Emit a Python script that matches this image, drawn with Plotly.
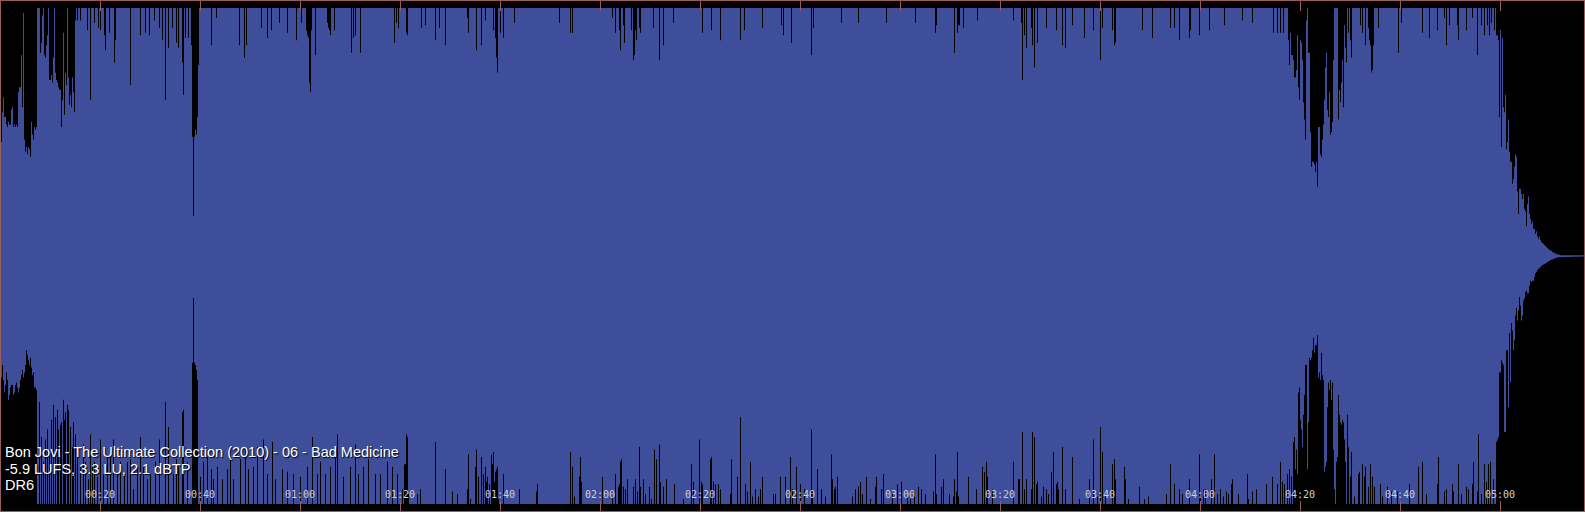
import plotly.graph_objects as go

# ---------------- data ----------------
BIN = 0.2                      # seconds per waveform column
body_start = 7.4               # s, start of the full-scale (clipped) body
fade_start = 299.2             # s, start of the fade-out

# intro columns (0 .. 7.4 s): positive / negative peak level
intro_top = [0.49, 0.46, 0.58, 0.64, 0.56, 0.56, 0.53, 0.52, 0.54, 0.53,
             0.53, 0.59, 0.60, 0.52, 0.53, 0.52, 0.53, 0.52, 0.66, 0.68,
             0.68, 0.81, 0.60, 0.98, 0.47, 0.42, 0.44, 0.41, 0.44, 0.43,
             0.40, 0.54, 0.49, 0.47, 0.52, 0.51, 0.52]
intro_bot = [0.48, 0.49, 0.44, 0.50, 0.55, 0.52, 0.47, 0.50, 0.58, 0.56,
             0.53, 0.52, 0.52, 0.56, 0.55, 0.52, 0.51, 0.53, 0.55, 0.53,
             0.50, 0.48, 0.46, 0.49, 0.47, 0.44, 0.38, 0.40, 0.42, 0.44,
             0.41, 0.45, 0.48, 0.47, 0.53, 0.53, 0.54]

# fade-out columns (from 299.2 s to the end)
fade_top = [0.89, 0.89, 0.87, 0.56, 0.91, 0.44, 0.88, 0.60, 0.58, 0.65,
            0.43, 0.46, 0.55, 0.42, 0.38, 0.38, 0.29, 0.31, 0.36, 0.41,
            0.40, 0.26, 0.17, 0.27, 0.27, 0.25, 0.23, 0.25, 0.19, 0.18,
            0.12, 0.21, 0.24, 0.17, 0.15, 0.13, 0.14, 0.11, 0.11, 0.09,
            0.10, 0.08, 0.07, 0.08, 0.065, 0.056, 0.052, 0.048, 0.044, 0.04,
            0.036, 0.032, 0.028, 0.024, 0.022, 0.02, 0.016, 0.014, 0.012, 0.01,
            0.008, 0.008, 0.006, 0.005,
            0.003, 0.003, 0.003, 0.003, 0.003, 0.003, 0.003, 0.003, 0.003, 0.003,
            0.003, 0.003, 0.003, 0.003, 0.003, 0.003, 0.003, 0.003, 0.003, 0.003,
            0.003, 0.003, 0.003, 0.003]
fade_bot = [0.75, 0.74, 0.73, 0.47, 0.47, 0.42, 0.43, 0.44, 0.71, 0.71,
            0.38, 0.38, 0.61, 0.31, 0.51, 0.27, 0.30, 0.38, 0.34, 0.24,
            0.21, 0.26, 0.22, 0.165, 0.20, 0.26, 0.24, 0.18, 0.17, 0.145,
            0.14, 0.15, 0.15, 0.12, 0.10, 0.105, 0.10, 0.10, 0.085, 0.07,
            0.065, 0.056, 0.05, 0.05, 0.044, 0.04, 0.036, 0.035, 0.032, 0.03,
            0.028, 0.024, 0.022, 0.02, 0.016, 0.016, 0.014, 0.012, 0.01, 0.008,
            0.008, 0.006, 0.005, 0.004,
            0.002, 0.002, 0.002, 0.002, 0.002, 0.002, 0.002, 0.002, 0.002, 0.002,
            0.002, 0.002, 0.002, 0.002, 0.002, 0.002, 0.002, 0.002, 0.002, 0.002,
            0.002, 0.002, 0.002, 0.002]

# columns of the body whose positive peak stays below full scale: (time s, level)
top_dips = [
    (8.0, 0.82), (8.2, 0.86), (8.4, 0.97), (8.8, 0.81), (9.0, 0.80), (9.2, 0.85), (9.4, 0.89),
    (9.8, 0.71), (10.0, 0.71), (10.2, 0.73), (10.4, 0.70), (10.6, 0.80), (11.0, 0.74), (11.2, 0.71),
    (11.4, 0.70), (11.6, 0.68), (11.8, 0.67), (12.0, 0.67), (12.2, 0.52), (12.4, 0.63), (12.6, 0.90),
    (12.8, 0.57), (13.0, 0.74), (13.2, 0.69), (13.6, 0.72), (13.8, 0.61), (14.0, 0.65), (14.2, 0.60),
    (14.4, 0.72), (14.6, 0.66), (14.8, 0.58), (15.0, 0.95), (15.4, 0.95), (16.0, 0.95), (17.4, 0.91),
    (18.0, 0.63), (18.8, 0.94), (19.6, 0.92), (20.0, 0.91), (20.8, 0.89), (21.0, 0.83), (21.8, 0.90),
    (22.8, 0.78), (23.0, 0.87), (26.0, 0.69), (28.0, 0.89), (29.0, 0.90), (29.8, 0.89), (30.8, 0.95),
    (31.8, 0.92), (32.4, 0.87), (33.0, 0.63), (33.6, 0.84), (34.4, 0.92), (35.2, 0.86), (35.6, 0.84),
    (36.4, 0.78), (36.6, 0.65), (37.0, 0.88), (37.6, 0.88), (38.2, 0.85), (38.4, 0.48), (38.6, 0.16),
    (38.8, 0.48), (39.0, 0.51), (39.2, 0.49), (39.4, 0.56), (39.6, 0.77), (42.2, 0.85), (43.2, 0.96),
    (47.8, 0.85), (48.8, 0.80), (49.2, 0.85), (52.2, 0.92), (53.4, 0.88), (54.2, 0.91), (55.8, 0.94),
    (57.4, 0.90), (59.2, 0.87), (60.2, 0.94), (61.2, 0.91), (61.4, 0.89), (61.6, 0.88), (61.8, 0.70),
    (62.0, 0.66), (62.2, 0.91), (63.0, 0.81), (65.4, 0.94), (65.6, 0.92), (65.8, 0.91), (66.0, 0.89),
    (66.8, 0.91), (70.2, 0.82), (70.6, 0.88), (71.0, 0.89), (72.0, 0.82), (78.8, 0.86), (79.2, 0.94),
    (79.6, 0.92), (81.2, 0.90), (81.4, 0.89), (84.2, 0.92), (85.0, 0.93), (87.0, 0.87), (87.8, 0.92),
    (89.0, 0.85), (93.4, 0.96), (93.6, 0.90), (95.2, 0.83), (96.2, 0.85), (97.0, 0.95), (98.6, 0.91),
    (99.0, 0.88), (99.2, 0.80), (99.4, 0.74), (100.0, 0.90), (100.6, 0.88), (102.8, 0.94), (111.8, 0.94),
    (114.0, 0.90), (114.4, 0.90), (122.4, 0.96), (123.0, 0.90), (123.8, 0.91), (124.0, 0.83), (124.6, 0.93),
    (124.8, 0.86), (126.2, 0.91), (126.6, 0.79), (126.8, 0.81), (127.0, 0.91), (127.2, 0.87), (127.8, 0.92),
    (128.0, 0.90), (130.6, 0.92), (131.8, 0.79), (132.6, 0.85), (134.6, 0.94), (140.4, 0.90), (142.2, 0.91),
    (144.0, 0.87), (148.0, 0.87), (148.8, 0.91), (152.4, 0.92), (156.2, 0.93), (156.6, 0.89), (158.2, 0.86),
    (162.2, 0.81), (162.6, 0.92), (168.2, 0.94), (171.6, 0.94), (177.2, 0.94), (183.0, 0.94), (187.0, 0.90),
    (187.2, 0.93), (190.8, 0.82), (191.4, 0.90), (191.6, 0.93), (191.8, 0.93), (192.6, 0.92), (195.4, 0.95),
    (202.6, 0.95), (204.2, 0.94), (204.4, 0.71), (204.8, 0.89), (205.2, 0.84), (206.2, 0.92), (206.4, 0.85),
    (206.8, 0.76), (207.4, 0.86), (209.2, 0.92), (211.2, 0.91), (212.4, 0.85), (213.0, 0.84), (214.4, 0.93),
    (216.8, 0.88), (218.6, 0.91), (220.0, 0.79), (220.4, 0.92), (222.4, 0.91), (222.8, 0.85), (223.0, 0.86),
    (228.4, 0.91), (230.4, 0.88), (234.0, 0.92), (234.8, 0.92), (235.8, 0.87), (237.8, 0.88), (238.0, 0.91),
    (239.8, 0.89), (241.8, 0.91), (244.8, 0.93), (248.4, 0.95), (250.4, 0.94), (254.6, 0.90), (255.4, 0.90),
    (256.0, 0.90), (256.6, 0.90), (257.6, 0.87), (257.8, 0.77), (258.0, 0.90), (258.2, 0.81), (258.4, 0.81),
    (258.6, 0.79), (258.8, 0.72), (259.0, 0.72), (259.2, 0.75), (259.4, 0.89), (259.6, 0.68), (259.8, 0.63),
    (260.0, 0.87), (260.2, 0.86), (260.4, 0.79), (260.6, 0.62), (260.8, 0.55), (261.0, 0.47), (261.2, 0.95),
    (261.6, 0.82), (261.8, 0.82), (262.0, 0.50), (262.2, 0.36), (262.4, 0.38), (262.6, 0.38), (262.8, 0.37),
    (263.0, 0.34), (263.2, 0.38), (263.4, 0.28), (263.6, 0.52), (263.8, 0.52), (264.0, 0.41), (264.2, 0.40),
    (264.4, 0.47), (264.6, 0.53), (264.8, 0.63), (265.0, 0.76), (265.2, 0.82), (265.4, 0.59), (265.6, 0.56),
    (265.8, 0.66), (266.0, 0.49), (266.2, 0.50), (266.4, 0.54), (266.6, 0.79), (267.6, 0.55), (267.8, 0.67),
    (268.0, 0.62), (268.2, 0.70), (268.4, 0.79), (268.6, 0.60), (268.8, 0.93), (269.0, 0.84), (269.2, 0.78),
    (269.6, 0.90), (270.0, 0.87), (270.2, 0.80), (272.0, 0.93), (272.4, 0.90), (273.0, 0.85), (273.6, 0.92),
    (273.8, 0.87), (274.0, 0.85), (274.2, 0.74), (274.4, 0.75), (274.6, 0.85), (275.6, 0.92), (279.6, 0.82),
    (280.2, 0.94), (284.4, 0.90), (285.8, 0.88), (287.4, 0.91), (288.8, 0.96), (289.2, 0.85), (289.8, 0.93),
    (291.4, 0.93), (291.6, 0.87), (293.2, 0.91), (294.4, 0.96), (295.4, 0.81), (296.2, 0.93), (296.8, 0.89),
    (297.4, 0.93), (297.8, 0.89), (298.2, 0.94), (298.8, 0.91),
]

# columns of the body whose negative peak stays below full scale: (time s, level)
bot_dips = [
    (7.8, 0.59), (8.2, 0.73), (8.6, 0.83), (9.0, 0.74), (9.4, 0.70), (9.8, 0.78), (10.2, 0.66),
    (10.6, 0.60), (11.0, 0.65), (11.4, 0.62), (11.6, 0.70), (12.0, 0.68), (12.2, 0.67), (12.6, 0.58),
    (12.8, 0.66), (13.0, 0.63), (13.4, 0.60), (13.6, 0.62), (14.0, 0.69), (14.4, 0.77), (14.6, 0.67),
    (15.0, 0.72), (15.4, 0.78), (16.0, 0.85), (16.6, 0.76), (17.0, 0.83), (17.6, 0.90), (18.0, 0.72),
    (18.4, 0.84), (18.8, 0.83), (19.4, 0.89), (20.0, 0.74), (20.6, 0.88), (21.4, 0.81), (22.0, 0.81),
    (22.6, 0.74), (23.4, 0.88), (24.0, 0.83), (24.8, 0.88), (25.4, 0.83), (26.0, 0.82), (26.6, 0.94),
    (27.4, 0.86), (28.0, 0.73), (28.6, 0.85), (29.4, 0.90), (30.0, 0.88), (31.0, 0.83), (31.8, 0.74),
    (33.0, 0.59), (33.6, 0.69), (34.6, 0.88), (35.2, 0.82), (35.6, 0.85), (36.4, 0.63), (36.6, 0.62),
    (37.4, 0.83), (38.4, 0.43), (38.6, 0.17), (38.8, 0.43), (39.0, 0.44), (39.2, 0.46), (39.4, 0.50),
    (40.0, 0.89), (40.6, 0.83), (41.4, 0.81), (42.2, 0.86), (42.6, 0.90), (43.4, 0.85), (44.4, 0.90),
    (45.4, 0.86), (46.0, 0.81), (46.6, 0.90), (48.0, 0.82), (49.0, 0.77), (49.6, 0.86), (50.6, 0.85),
    (51.4, 0.77), (52.6, 0.74), (53.4, 0.88), (54.4, 0.75), (55.0, 0.90), (56.4, 0.86), (57.4, 0.87),
    (58.6, 0.88), (60.0, 0.89), (61.4, 0.85), (62.4, 0.73), (63.4, 0.88), (64.0, 0.83), (65.0, 0.88),
    (66.0, 0.85), (67.0, 0.81), (67.4, 0.72), (68.6, 0.89), (70.0, 0.85), (71.0, 0.76), (71.6, 0.88),
    (72.6, 0.85), (73.6, 0.82), (75.0, 0.88), (76.0, 0.88), (77.4, 0.83), (78.4, 0.85), (79.4, 0.88),
    (80.4, 0.94), (80.8, 0.84), (81.0, 0.84), (81.2, 0.72), (81.4, 0.73), (81.6, 0.96), (83.4, 0.96),
    (84.0, 0.94), (87.0, 0.75), (89.0, 0.86), (90.4, 0.95), (91.4, 0.96), (93.4, 0.94), (93.6, 0.80),
    (94.0, 0.98), (95.0, 0.85), (95.2, 0.78), (95.6, 0.89), (96.2, 0.81), (96.6, 0.88), (97.0, 0.85),
    (97.2, 0.91), (97.4, 0.89), (97.8, 0.92), (98.2, 0.80), (98.4, 0.84), (98.6, 0.79), (98.8, 0.91),
    (99.0, 0.87), (99.2, 0.86), (99.4, 0.85), (99.6, 0.98), (100.6, 0.88), (103.8, 0.94), (107.2, 0.95),
    (107.4, 0.92), (114.0, 0.79), (114.4, 0.85), (114.8, 0.97), (115.8, 0.89), (116.0, 0.81), (116.2, 0.91),
    (120.4, 0.89), (122.4, 0.97), (123.0, 0.88), (123.6, 0.93), (123.8, 0.92), (124.0, 0.83), (124.2, 0.82),
    (124.6, 0.93), (125.0, 0.94), (125.4, 0.90), (126.6, 0.93), (127.0, 0.90), (127.4, 0.95), (127.8, 0.77),
    (128.0, 0.93), (128.6, 0.90), (129.0, 0.96), (129.8, 0.93), (130.2, 0.98), (130.8, 0.78), (131.2, 0.82),
    (131.8, 0.76), (132.0, 0.91), (132.6, 0.93), (133.2, 0.90), (134.8, 0.92), (136.6, 0.98), (138.2, 0.84),
    (138.6, 0.91), (139.8, 0.74), (140.2, 0.91), (140.4, 0.92), (142.0, 0.82), (142.2, 0.81), (142.6, 0.91),
    (143.0, 0.92), (143.6, 0.92), (144.0, 0.94), (146.0, 0.96), (146.2, 0.82), (147.4, 0.89), (148.0, 0.65),
    (149.0, 0.92), (149.4, 0.95), (150.0, 0.83), (150.4, 0.97), (151.0, 0.94), (151.6, 0.97), (152.0, 0.94),
    (152.4, 0.89), (154.6, 0.96), (155.0, 0.96), (156.0, 0.89), (157.0, 0.89), (158.0, 0.81), (158.4, 0.94),
    (159.2, 0.85), (160.0, 0.92), (160.8, 0.94), (162.2, 0.70), (162.4, 0.95), (163.4, 0.86), (164.2, 0.94),
    (165.0, 0.97), (166.2, 0.80), (166.4, 0.90), (166.8, 0.94), (167.0, 0.93), (167.4, 0.89), (170.4, 0.97),
    (171.0, 0.94), (171.6, 0.93), (172.0, 0.91), (172.4, 0.96), (173.2, 0.89), (174.0, 0.98), (175.0, 0.93),
    (175.2, 0.89), (176.2, 0.94), (176.6, 0.88), (178.4, 0.96), (179.4, 0.92), (180.2, 0.91), (181.4, 0.97),
    (182.0, 0.98), (182.8, 0.95), (183.6, 0.93), (184.2, 0.94), (185.0, 0.96), (186.6, 0.95), (187.0, 0.80),
    (187.2, 0.96), (188.2, 0.93), (188.6, 0.90), (189.8, 0.96), (190.6, 0.97), (190.8, 0.90), (191.2, 0.95),
    (191.4, 0.79), (191.6, 0.97), (193.6, 0.89), (195.2, 0.94), (196.4, 0.85), (196.8, 0.87), (197.2, 0.83),
    (197.4, 0.89), (198.4, 0.94), (202.6, 0.83), (203.6, 0.90), (203.8, 0.90), (204.4, 0.71), (204.8, 0.94),
    (205.2, 0.90), (206.2, 0.94), (206.4, 0.71), (206.8, 0.73), (207.2, 0.92), (207.4, 0.91), (208.2, 0.97),
    (208.6, 0.93), (209.2, 0.94), (209.6, 0.96), (210.2, 0.87), (210.6, 0.79), (211.2, 0.92), (211.4, 0.91),
    (211.6, 0.94), (212.4, 0.77), (213.0, 0.94), (214.4, 0.81), (215.8, 0.98), (217.8, 0.90), (218.6, 0.74),
    (219.4, 0.97), (220.0, 0.69), (220.4, 0.79), (221.0, 0.97), (222.4, 0.84), (222.8, 0.82), (223.0, 0.90),
    (224.8, 0.85), (225.0, 0.90), (225.6, 0.98), (227.8, 0.93), (228.8, 0.98), (229.6, 0.97), (233.2, 0.96),
    (234.0, 0.84), (234.8, 0.92), (235.8, 0.94), (236.4, 0.96), (237.8, 0.90), (239.8, 0.80), (240.0, 0.97),
    (240.6, 0.94), (241.0, 0.94), (242.2, 0.90), (242.8, 0.80), (243.4, 0.96), (244.0, 0.94), (244.6, 0.97),
    (245.2, 0.95), (245.6, 0.96), (246.2, 0.92), (246.4, 0.90), (247.6, 0.96), (249.4, 0.88), (249.6, 0.98),
    (250.4, 0.95), (251.2, 0.94), (253.2, 0.92), (254.4, 0.89), (255.4, 0.92), (256.0, 0.83), (256.4, 0.91),
    (256.8, 0.92), (257.4, 0.88), (257.8, 0.86), (258.2, 0.89), (258.6, 0.75), (258.8, 0.73), (259.0, 0.86),
    (259.2, 0.78), (259.4, 0.88), (259.6, 0.55), (259.8, 0.53), (260.0, 0.66), (260.2, 0.70), (260.4, 0.77),
    (260.6, 0.64), (260.8, 0.56), (261.0, 0.44), (261.2, 0.44), (261.4, 0.86), (261.6, 0.67), (261.8, 0.41),
    (262.0, 0.42), (262.2, 0.41), (262.4, 0.38), (262.6, 0.33), (262.8, 0.39), (263.0, 0.36), (263.2, 0.36),
    (263.4, 0.32), (263.6, 0.49), (263.8, 0.47), (264.0, 0.50), (264.2, 0.39), (264.4, 0.48), (264.6, 0.50),
    (264.8, 0.87), (265.0, 0.85), (265.2, 0.83), (265.4, 0.61), (265.6, 0.51), (265.8, 0.54), (266.0, 0.50),
    (266.2, 0.58), (266.4, 0.51), (266.6, 0.78), (266.8, 0.94), (267.2, 0.83), (267.4, 0.81), (267.6, 0.56),
    (267.8, 0.64), (268.0, 0.67), (268.2, 0.68), (268.4, 0.66), (268.6, 0.67), (268.8, 0.74), (269.0, 0.83),
    (269.4, 0.64), (269.6, 0.77), (270.0, 0.89), (270.2, 0.79), (270.8, 0.97), (271.6, 0.88), (271.8, 0.87),
    (272.4, 0.84), (272.8, 0.89), (273.0, 0.85), (273.6, 0.93), (274.0, 0.84), (274.4, 0.89), (274.8, 0.93),
    (276.0, 0.92), (276.4, 0.97), (277.4, 0.93), (278.2, 0.95), (279.4, 0.95), (281.8, 0.92), (283.6, 0.85),
    (284.4, 0.83), (285.2, 0.96), (287.4, 0.92), (287.6, 0.81), (288.8, 0.95), (289.2, 0.94), (290.4, 0.92),
    (290.6, 0.95), (291.6, 0.84), (292.2, 0.96), (293.2, 0.93), (293.6, 0.94), (294.4, 0.92), (294.6, 0.83),
    (295.4, 0.95), (295.6, 0.72), (296.2, 0.96), (296.8, 0.84), (297.2, 0.91), (297.6, 0.84), (298.0, 0.83),
    (298.6, 0.90),
]

tick_vals = [20, 40, 60, 80, 100, 120, 140, 160, 180, 200, 220, 240, 260, 280, 300]
tick_text = ["00:20", "00:40", "01:00", "01:20", "01:40", "02:00", "02:20", "02:40",
             "03:00", "03:20", "03:40", "04:00", "04:20", "04:40", "05:00"]

info_lines = ["Bon Jovi - The Ultimate Collection (2010) - 06 - Bad Medicine",
              "-5.9 LUFS, 3.3 LU, 2.1 dBTP",
              "DR6"]

# ---------------- build per-column peaks ----------------
fade_i0 = round(fade_start / BIN)
n_bins = fade_i0 + len(fade_top)
top = [1.0] * n_bins
bot = [1.0] * n_bins
for i, v in enumerate(intro_top):
    top[i] = v
for i, v in enumerate(intro_bot):
    bot[i] = v
for i, v in enumerate(fade_top):
    top[fade_i0 + i] = v
for i, v in enumerate(fade_bot):
    bot[fade_i0 + i] = v
for t, v in top_dips:
    top[round(t / BIN)] = v
for t, v in bot_dips:
    bot[round(t / BIN)] = v

xs, ys = [], []
for i in range(n_bins):
    xs += [i * BIN, (i + 1) * BIN]
    ys += [top[i], top[i]]
for i in reversed(range(n_bins)):
    xs += [(i + 1) * BIN, i * BIN]
    ys += [-bot[i], -bot[i]]

WAVE = "#3f4e9b"
FRAME = "#985c5c"

fig = go.Figure()
fig.add_trace(go.Scatter(x=xs, y=ys, mode="lines", fill="toself",
                         fillcolor=WAVE, line=dict(width=0, color=WAVE),
                         hoverinfo="skip", showlegend=False))

W, H = 1585, 512
fig.update_layout(
    width=W, height=H,
    margin=dict(l=1, r=1, t=1, b=1, pad=0),
    paper_bgcolor="black", plot_bgcolor="black",
    showlegend=False,
    xaxis=dict(range=[0.2, 316.8], showgrid=False, zeroline=False,
               showline=True, linecolor=FRAME, linewidth=1, mirror="ticks",
               ticks="inside", ticklen=10, tickwidth=1, tickcolor=FRAME,
               tickvals=tick_vals, showticklabels=False, fixedrange=True),
    yaxis=dict(range=[-1.0282, 1.0282], showgrid=False, zeroline=False,
               showline=True, linecolor=FRAME, linewidth=1, mirror=True,
               ticks="", showticklabels=False, fixedrange=True),
)

for tv, tt in zip(tick_vals, tick_text):
    fig.add_annotation(x=tv, y=0.0333, xref="x", yref="paper", text=tt,
                       showarrow=False, xanchor="center", yanchor="middle",
                       borderpad=0, borderwidth=0,
                       font=dict(family="DejaVu Sans Mono", size=10, color="#d0d0d0"))

line_centers = [0.1157, 0.0833, 0.0510]
for txt, yc in zip(info_lines, line_centers):
    fig.add_annotation(x=0.0025, y=yc, xref="paper", yref="paper", text=txt,
                       showarrow=False, xanchor="left", yanchor="middle",
                       borderpad=0, borderwidth=0,
                       font=dict(family="Liberation Sans, Arial", size=14.5, color="white",
                                 shadow="1px 1px 1px #000000"))

fig.write_html(
    "out.html",
    config={"displayModeBar": False, "staticPlot": True},
    post_script="document.body.style.margin='0';document.body.style.padding='0';"
                "document.body.style.background='black';document.body.style.overflow='hidden';",
)
